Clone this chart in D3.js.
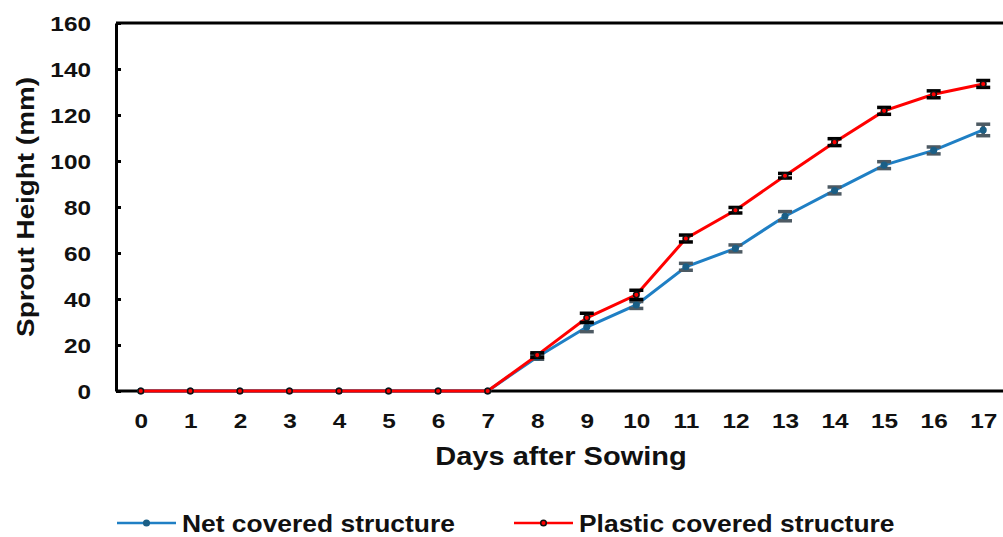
<!DOCTYPE html>
<html>
<head>
<meta charset="utf-8">
<script src="https://cdn.jsdelivr.net/npm/d3@7"></script>
<style>
  body { margin: 0; background: #fff; }
  text { font-family: "Liberation Sans", Arial, sans-serif; font-weight: bold; fill: #111; }
</style>
</head>
<body>
<div id="chart"></div>
<script>
// data
var days = [0, 1, 2, 3, 4, 5, 6, 7, 8, 9, 10, 11, 12, 13, 14, 15, 16, 17];
var netHeight = [0, 0, 0, 0, 0, 0, 0, 0, 14.8, 27.8, 37.4, 54, 62, 76, 87.2, 98.2, 104.6, 113.5];
var netErr    = [0, 0, 0, 0, 0, 0, 0, 0, 1, 2, 1.5, 1.5, 1.5, 2, 1.5, 1.5, 1.5, 2.5];
var plasticHeight = [0, 0, 0, 0, 0, 0, 0, 0, 15.6, 31.8, 41.8, 66.3, 78.6, 93.6, 108.2, 121.8, 129, 133.5];
var plasticErr    = [0, 0, 0, 0, 0, 0, 0, 0, 1, 2, 2, 1.5, 1.2, 1, 1.5, 1.5, 1.5, 1.5];
var yTicks = [0, 20, 40, 60, 80, 100, 120, 140, 160];

var W = 1003, H = 537;
var mLeft = 116, mTop = 23, mRight = 1008, mBottom = 391;
var stretch = 1.16; // the reference text is a bit wide

var svg = d3.select("#chart").append("svg")
    .attr("width", W)
    .attr("height", H);

var x = d3.scalePoint()
    .domain(days)
    .range([mLeft, mRight])
    .padding(0.5);

var y = d3.scaleLinear()
    .domain([0, 160])
    .range([mBottom, mTop]);

// top border line
svg.append("line")
    .attr("x1", mLeft).attr("x2", mRight)
    .attr("y1", mTop).attr("y2", mTop)
    .attr("stroke", "#000").attr("stroke-width", 3);

// y axis, ticks pointing inward
var yAxis = svg.append("g")
    .attr("transform", "translate(" + mLeft + ",0)")
    .call(d3.axisRight(y).tickValues(yTicks).tickSize(5).tickSizeOuter(0).tickFormat(d3.format("d")));
yAxis.select(".domain").attr("stroke", "#000").attr("stroke-width", 3);
yAxis.selectAll(".tick line").attr("stroke", "#000").attr("stroke-width", 3);
yAxis.selectAll(".tick text")
    .attr("x", -25)
    .attr("dy", "0.36em")
    .attr("text-anchor", "end")
    .style("font-size", "21px")
    .style("font-family", "'Liberation Sans', Arial, sans-serif")
    .style("font-weight", "bold")
    .attr("fill", "#111");

// x axis, no tick marks
var xAxis = svg.append("g")
    .attr("transform", "translate(0," + mBottom + ")")
    .call(d3.axisBottom(x).tickSize(0).tickSizeOuter(0));
xAxis.select(".domain").attr("d", "M" + mLeft + ",0H" + mRight).attr("stroke", "#000").attr("stroke-width", 3);
xAxis.selectAll(".tick text")
    .attr("y", 37)
    .attr("dy", 0)
    .style("font-size", "21px")
    .style("font-family", "'Liberation Sans', Arial, sans-serif")
    .style("font-weight", "bold")
    .attr("fill", "#111");

// axis titles
svg.append("text")
    .attr("x", 561)
    .attr("y", 465)
    .attr("text-anchor", "middle")
    .style("font-size", "25px")
    .text("Days after Sowing");

svg.append("text")
    .attr("transform", "translate(34,207) rotate(-90)")
    .attr("text-anchor", "middle")
    .style("font-size", "24px")
    .text("Sprout Height (mm)");

var series = [
  { name: "Net covered structure", vals: netHeight, err: netErr, color: "#1f7fc4", errColor: "#4d5a63", mark: "#1b5f86", markStroke: "#1b5f86" },
  { name: "Plastic covered structure", vals: plasticHeight, err: plasticErr, color: "#ff0000", errColor: "#000", mark: "#ff0000", markStroke: "#111" }
];

var line = d3.line()
    .x(function(d) { return x(d.day); })
    .y(function(d) { return y(d.v); });

series.forEach(function(s) {
  var pts = days.map(function(d, i) { return { day: d, v: s.vals[i], e: s.err[i] }; });
  var g = svg.append("g");

  g.append("path")
      .datum(pts)
      .attr("fill", "none")
      .attr("stroke", s.color)
      .attr("stroke-width", 3)
      .attr("d", line);

  var eb = g.selectAll(".eb")
      .data(pts.filter(function(d) { return d.e > 0; }))
      .enter().append("g");
  eb.append("line")
      .attr("x1", function(d) { return x(d.day); })
      .attr("x2", function(d) { return x(d.day); })
      .attr("y1", function(d) { return y(d.v - d.e); })
      .attr("y2", function(d) { return y(d.v + d.e); })
      .attr("stroke", s.errColor).attr("stroke-width", 3.5);
  [-1, 1].forEach(function(sg) {
    eb.append("line")
        .attr("x1", function(d) { return x(d.day) - 7; })
        .attr("x2", function(d) { return x(d.day) + 7; })
        .attr("y1", function(d) { return y(d.v + sg * d.e); })
        .attr("y2", function(d) { return y(d.v + sg * d.e); })
        .attr("stroke", s.errColor).attr("stroke-width", 3.5);
  });

  g.selectAll("circle")
      .data(pts)
      .enter().append("circle")
      .attr("cx", function(d) { return x(d.day); })
      .attr("cy", function(d) { return y(d.v); })
      .attr("r", 2.8)
      .attr("fill", s.mark)
      .attr("stroke", s.markStroke)
      .attr("stroke-width", 1.5);
});

// legend
var legX = [117, 514];
series.forEach(function(s, i) {
  var lg = svg.append("g").attr("transform", "translate(" + legX[i] + ",523)");
  lg.append("line")
      .attr("x1", 0).attr("x2", 59)
      .attr("stroke", s.color).attr("stroke-width", 2.5);
  lg.append("circle")
      .attr("cx", 29.5).attr("r", 2.8)
      .attr("fill", s.mark).attr("stroke", s.markStroke).attr("stroke-width", 1.5);
  lg.append("text")
      .attr("class", "leg")
      .attr("x", 65)
      .attr("dy", "0.36em")
      .style("font-size", "24px")
      .text(s.name);
});

// widen all text a little, like the reference
svg.selectAll("text").each(function() {
  var w = this.getComputedTextLength();
  var k = d3.select(this).classed("leg") ? 1.1 : stretch;
  d3.select(this)
      .attr("textLength", w * k)
      .attr("lengthAdjust", "spacingAndGlyphs");
});
</script>
</body>
</html>
